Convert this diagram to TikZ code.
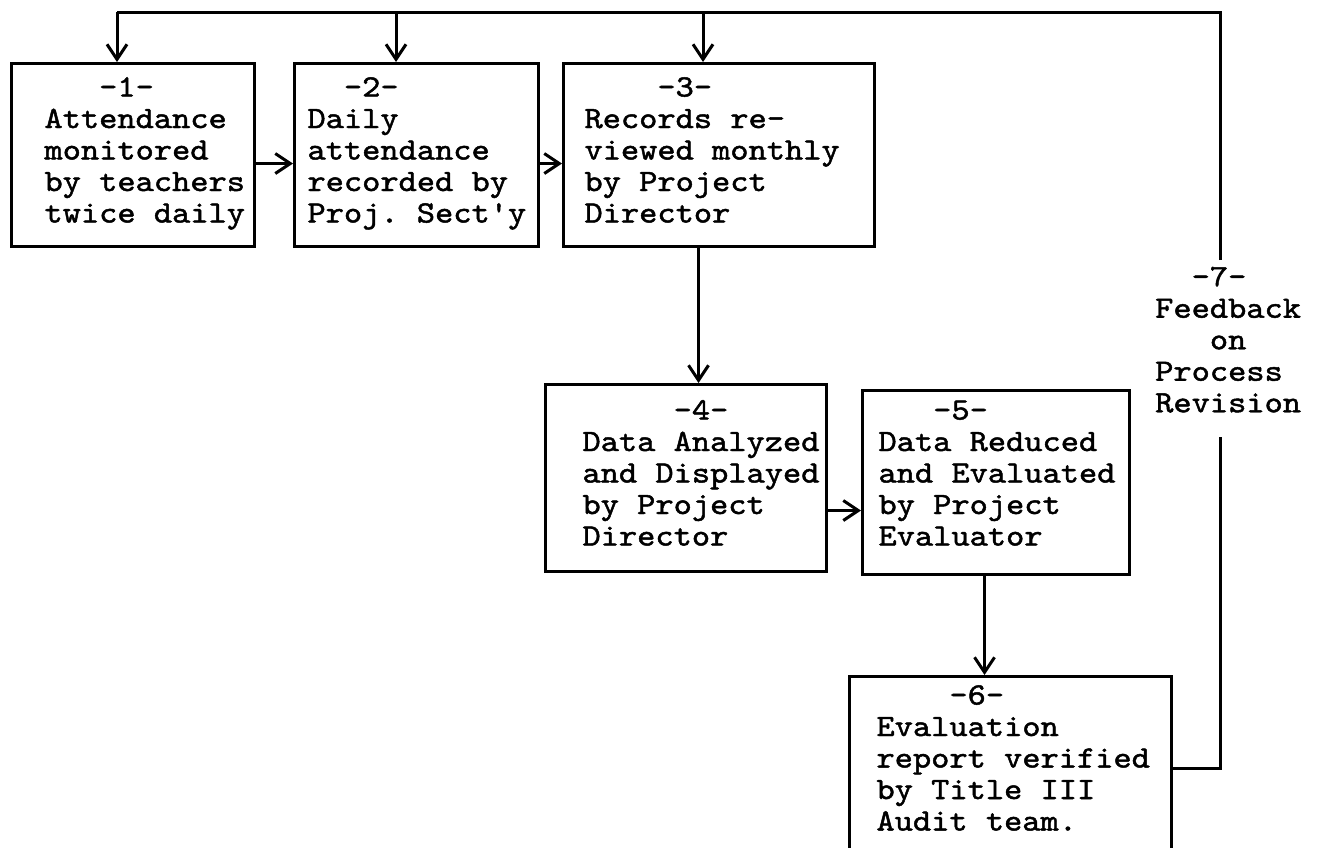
\documentclass[tikz,border=0pt]{standalone}
\usepackage{fontspec}
\setmonofont{lmmono10-regular.otf}[FakeStretch=1.12,FakeBold=1.5]
\usetikzlibrary{arrows.meta}
\newcommand\fctext[5]{\parbox[c][#2pt][t]{#1pt}{\ttfamily\fontsize{31pt}{31.5pt}\selectfont\lineskiplimit=-1000pt\parindent=0pt\leftskip=#4pt\relax\vspace*{\dimexpr#3pt-22.05pt\relax}\strut#5}}
\tikzset{
  stepbox/.style={draw, line width=3pt, inner sep=0pt, anchor=north west},
  wire/.style={line width=3pt},
  arrow/.style={line width=3pt, -{Straight Barb[length=15pt,width=20pt]}},
  fbtext/.style={inner sep=0pt, anchor=north west}
}
\begin{document}
\begin{tikzpicture}[x=1pt,y=-1pt]
\useasboundingbox (0,0) rectangle (1329,847);
\fill[white] (0,0) rectangle (1329,847);
\clip (0,0) rectangle (1329,847);

\node[stepbox] (b1) at (10,62) {\fctext{243}{183}{33}{33}{\phantom{000}-1-\\Attendance\\monitored\\by teachers\\twice daily}};
\node[stepbox] (b2) at (293,62) {\fctext{244}{183}{33}{13}{\phantom{00}-2-\\Daily\\attendance\\recorded by\\Proj. Sect'y}};
\node[stepbox] (b3) at (562,62) {\fctext{311}{183}{33}{21}{\phantom{0000}-3-\\Records re-\\viewed monthly\\by Project\\Director}};
\node[stepbox] (b4) at (544,383) {\fctext{281}{187}{35}{37}{\phantom{00000}-4-\\Data Analyzed\\and Displayed\\by Project\\Director}};
\node[stepbox] (b5) at (861,389) {\fctext{267}{184}{29}{16}{\phantom{000}-5-\\Data Reduced\\and Evaluated\\by Project\\Evaluator}};
\node[stepbox] (b6) at (848,675) {\fctext{322}{200}{28}{27}{\phantom{0000}-6-\\Evaluation\\report verified\\by Title III\\Audit team.}};
\node[fbtext] (fb) at (1155,264) {\fctext{172}{160}{22.05}{0}{\phantom{00}-7-\\Feedback\\\phantom{000}on\\Process\\Revision}};

\coordinate (tl) at (117,12);
\coordinate (t2) at (396,12);
\coordinate (t3) at (703,12);
\coordinate (tr) at (1220,12);
\coordinate (fbU) at (1220,260);
\coordinate (fbD) at (1220,437);
\coordinate (fbB) at (1220,768);

\draw[wire] (fbU) -- (tr) -- (tl);
\draw[arrow] (tl) -- (tl |- b1.north);
\draw[arrow] (t2) -- (t2 |- b2.north);
\draw[arrow] (t3) -- (t3 |- b3.north);
\draw[arrow] ([yshift=-8.5pt]b1.east) -- ([yshift=-8.5pt]b1.east -| b2.west);
\draw[arrow] ([yshift=-8.5pt]b2.east) -- ([yshift=-8.5pt]b2.east -| b3.west);
\draw[arrow] ([xshift=-20.5pt]b3.south) -- ([xshift=-20.5pt]b3.south |- b4.north);
\draw[arrow] ([yshift=-32.5pt]b4.east) -- ([yshift=-32.5pt]b4.east -| b5.west);
\draw[arrow] ([xshift=-11.5pt]b5.south) -- ([xshift=-11.5pt]b5.south |- b6.north);
\draw[wire] (b6.east |- fbB) -- (fbB) -- (fbD);
\end{tikzpicture}
\end{document}
